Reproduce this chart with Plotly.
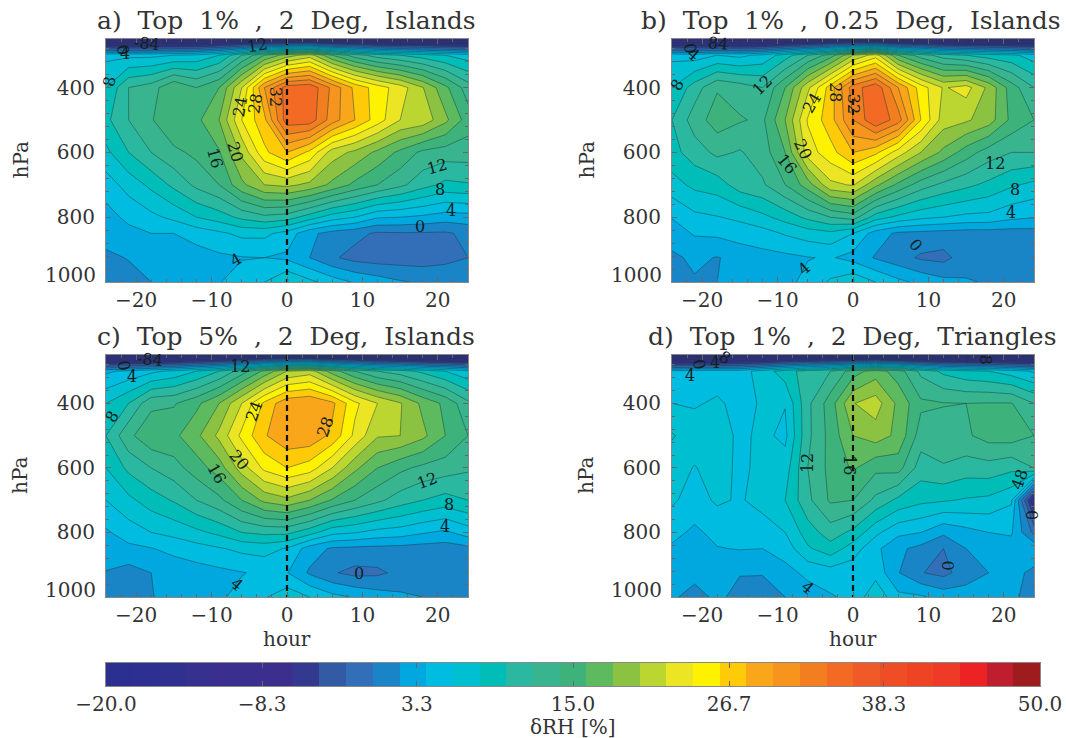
import numpy as np
import plotly.graph_objects as go

W, H = 1066, 738
hours = [-24,-21,-18,-15,-12,-9,-6,-3,0,3,6,9,12,15,18,21,24]
levels = [250,300,400,500,600,700,800,850,925,1000]

# values by pressure level (rows) for panel a
panel_a = [
 [-14,-14,-14,-14,-14,-13,-13,-12,-12,-12,-13,-13,-14,-14,-14,-14,-14],
 [5.5,5.5,5.5,6,6.5,8,12,16,19,21,16,13,11,10,9,8,7],
 [8,12,13,15.9,14,16,22,30,35,35.5,31.5,27.5,25,23,20.1,16.5,13],
 [9.5,12,13.8,16,15.5,18,24,27.5,35.2,35.2,31,28,25,22,21.3,18.5,15],
 [7.5,10,12,13.5,14.5,15.8,20.5,25.5,28,25.5,21,19.5,17.5,15.5,13.5,13,13],
 [5,6.8,8.5,10.5,12.5,14,17.5,20,20.5,19.5,17.5,15.5,14,12.5,10.8,9.5,9.8],
 [3.2,4.5,5.5,6.5,8,9,10.5,11.5,11,9,7,6,4.2,4,3.6,3,3.2],
 [2.8,3.4,4,4,4.8,5.6,6.5,6.5,5.2,2.5,1.2,0.6,-0.3,-0.2,-0.2,-0.3,0.5],
 [1.6,2.1,2.6,2.9,3.1,3.6,3.9,4,3.6,2,0.3,-0.7,-1,-1,-1,-0.6,0],
 [1,1.3,2,3,3.4,3.9,4.8,6,8,6.5,5,3.8,3,2.2,1.7,1.6,1.5],
]
# values by hour (columns, 250 -> 1000 hPa) for the other panels
panel_b_cols = [
 [-14,5.5,8,10,9.3,7.2,4.1,3,1.6,1.2],
 [-14,5,11,13,11,8.5,5.5,4.2,2.4,1.8],
 [-14,6,13.8,15,12.5,9,5.9,4.4,1.9,2.0],
 [-14,5.5,13,14.2,11.8,11,6.4,5,2.6,2.9],
 [-14,6.5,12,13.6,13,11.7,7.5,5.2,3.3,3.2],
 [-13,9,16,18,16,14,8.8,6.2,3.5,3.4],
 [-13,12,21.5,24.2,23,17,10.5,7,3.9,4.6],
 [-12,15,27,27.2,25.2,21.5,12,7.5,4.2,6.3],
 [-12,20,33,32,28,22.2,13,6,3.3,7.5],
 [-12,23,35.5,35.8,26.5,18.5,9,3,1.8,6],
 [-13,16,30,33,23,15.5,7.5,1.6,0.8,4.5],
 [-13,13,25,26,20,13,6.5,1.4,-0.3,3.5],
 [-14,11,21.8,21,17.5,11.5,6,1.2,-0.6,2.6],
 [-14,10,22.8,20.3,15,10.5,5.5,1,1,2.2],
 [-14,9,19.5,19,13,9.5,5.4,1,1.3,1.8],
 [-14,8.5,15,15.5,12,8.3,4.5,1,1.3,1.6],
 [-14,7,12,14,12,7.5,4.1,1.1,1.1,1.4],
]
panel_c_cols = [
 [-15,3.6,8,10,8,6,3.7,3,1.9,1.2],
 [-15,4.5,10,13.5,10.5,7.5,5,3.5,1.2,1.3],
 [-15,5.5,13.5,15.5,12,9,6,3.9,2,1.9],
 [-15,6.5,13.8,15.5,13.2,10.2,6.6,4.6,2.7,2.7],
 [-14,8,15.5,17.5,15,12,7.5,5.2,3.1,3.1],
 [-14,10,18,20.5,17,13.5,8.5,5.8,3.5,3.7],
 [-13,13,22,24.5,21,16,10,6.5,3.9,4.6],
 [-12,16.5,26.5,27.8,24.5,18.5,10.5,6.8,4.4,5.8],
 [-12,20,29.5,29.5,26,19.5,10.5,5.8,4.1,7.2],
 [-12,21,30,29.5,25,18,8.8,3,1.7,6],
 [-13,17,28.5,27.5,22,15.8,6.6,1.7,0.2,4.6],
 [-13,14,24.5,23.5,18.5,14,6.1,1.5,-0.6,3.8],
 [-14,12,22,20.2,16,12.5,5.3,1.4,-0.4,3],
 [-14,11,20.2,20,14.5,11,5,1.3,0.5,2.4],
 [-15,9.5,17.5,18.5,13.5,10,4.2,1.1,0.7,2],
 [-15,8,15.5,16,13,9.2,3.6,1,0.2,1.7],
 [-15,6.5,12.5,14,12.3,10,5,1.4,1,1.4],
]
panel_d_cols = [
 [-16,4.5,6,8.2,6.8,6.3,4.6,3.7,3,2.3],
 [-16,5,5.8,7,5.9,5.2,3.6,3.2,2.6,1.3],
 [-16,5,6.3,7.2,6.8,6.3,4.6,3.9,3.2,2.4],
 [-15,5,5.4,5.5,5.6,5.8,4.8,4.1,2.1,1.4],
 [-15,7,6.2,6.5,6.5,6.7,5,4,2.1,1.2],
 [-14,9,6.1,5.5,7,8,6,4.9,3.3,2],
 [-14,11,11.5,11.5,12,11.5,9,7.7,4.5,3],
 [-14,12,15,14.7,14.6,14.3,11,9.2,5,3.8],
 [-14,15,19.9,18,16.3,14,9.5,7,4.8,4.5],
 [-14,17,21,19,14.5,11.5,6.5,4.5,5.3,7.5],
 [-15,15,17.5,17.5,14.8,9.5,4.5,2.4,2.1,4.5],
 [-15,11.5,14.4,13,11,8.5,4,1.4,0.1,4.3],
 [-16,9.5,14.1,13.2,11.8,8.2,2.4,0,-0.6,3.2],
 [-16,8.5,14,13.7,11,7.8,3.3,2,1,3],
 [-16,8,14.1,14.8,11.2,7.5,4,3,2,2.8],
 [-16,7,14.1,15,10.5,6.3,4.2,3.3,2.7,2.5],
 [-16,5.7,12,14,12,-8,-0.5,3.5,1.5,1],
]
titles = ["a) Top 1% , 2 Deg, Islands","b) Top 1% , 0.25 Deg, Islands",
          "c) Top 5% , 2 Deg, Islands","d) Top 1% , 2 Deg, Triangles"]
band_colors = ["#2b3090","#2d3091","#2f3090","#38308f","#3a2f8e","#3a2e8e","#3b2e8d",
 "#33398f","#335aa5","#336fb8","#1a85c6","#00a8e0","#00bce0","#00bfd0","#00bdb8","#2bb8a0",
 "#38b58f","#3db27a","#5dba5f","#8cc241","#bcd631","#ece524","#fff200","#ffcb08","#faa61a",
 "#f7941d","#f37e20","#f26a24","#f05a28","#ef4d26","#ef4423","#ee3a26","#ed2224","#be1e2d","#9e1b1e"]
cbar_values = [-19+2*i for i in range(35)]
cbar_ticks = [-20,-8.3,3.3,15,26.7,38.3,50]
cbar_ticktext = ["\u221220.0","\u22128.3","3.3","15.0","26.7","38.3","50.0"]

# contour labels: hour, hPa, text, angle
labels_a = [(-21.7,284,"0",80),(-18.6,263,"-84",5),(-21.5,294,"4",0),(-23.5,382,"8",-80),(-4,269,"12",-10),
 (-6.2,459,"24",-80),(-4.2,449,"28",-80),(-1.6,428,"32",90),(-9.5,618,"16",75),(-6.9,598,"20",75),
 (19.9,644,"12",-15),(20.3,716,"8",0),(21.7,778,"4",0),(17.7,829,"0",0),(-6.7,932,"4",-30)]
labels_b = [(-21.6,279,"0",80),(-17.9,263,"84",5),(-21.2,299,"4",40),(-23.4,392,"8",-60),(-12.1,392,"12",-45),
 (-2.3,413,"28",90),(0.1,449,"32",90),(-5.5,449,"24",-60),(-6.6,590,"20",65),(-8.8,634,"16",50),
 (18.8,634,"12",0),(21.5,716,"8",0),(20.9,786,"4",0),(8.4,886,"0",50),(-6.5,958,"4",-40)]
labels_c = [(-21.7,284,"0",80),(-18.2,265,"-84",5),(-20.6,317,"4",0),(-23.2,441,"8",-60),(-6.2,286,"12",0),
 (-4.4,425,"24",-70),(5.1,472,"28",-70),(-6.4,575,"20",50),(-9.3,616,"16",60),(18.6,640,"12",-20),
 (21.5,714,"8",0),(20.9,781,"4",0),(9.5,928,"0",0),(-6.6,960,"4",40)]
labels_d = [(-20.4,279,"0",80),(-18.3,273,"4",0),(-17,257,"8",30),(-21.6,315,"4",0),(-6.1,585,"12",-90),
 (-0.5,592,"16",90),(22.1,637,"48",-70),(23.7,745,"0",90),(12.5,903,"0",90),(-6,969,"4",40),(17.5,265,"8",90)]

FONT = "DejaVu Serif"
TXT = "#333333"
panels = [np.array(panel_a), np.array(panel_b_cols).T, np.array(panel_c_cols).T, np.array(panel_d_cols).T]
all_labels = [labels_a, labels_b, labels_c, labels_d]
boxes = [(106,468,39,282),(672,1034,39,282),(106,468,355,597),(672,1034,355,597)]
title_x = [286,851,286,852]

scale = [[0, band_colors[0]]] + [[(k+1)/36, c] for k, c in enumerate(band_colors)] + [[1, band_colors[-1]]]
step = []
for k, c in enumerate(band_colors):
    step += [[k/35, c], [(k+1)/35, c]]

fig = go.Figure()
layout = dict(width=W, height=H, autosize=False, margin=dict(l=0,r=0,t=0,b=0,autoexpand=False),
              paper_bgcolor="white", plot_bgcolor="white", showlegend=False,
              font=dict(family=FONT, color=TXT, size=20))
ann = []
axis_common = dict(showgrid=False, zeroline=False, showline=True, linecolor="#888888", linewidth=1,
                   mirror="ticks", ticks="inside", tickcolor="#666666", ticklen=5, tickwidth=1,
                   tickfont=dict(family=FONT, size=20, color=TXT))
def paper(px, py, text, size=20, angle=0, xanchor="center"):
    return dict(x=px/W, y=1-py/H, xref="paper", yref="paper", text=text, textangle=angle, showarrow=False,
                xanchor=xanchor, yanchor="middle", font=dict(family=FONT, size=size, color=TXT))
for i, (z, box, labs) in enumerate(zip(panels, boxes, all_labels)):
    n = "" if i == 0 else str(i+1)
    xa, ya = "x"+n, "y"+n
    fig.add_trace(go.Contour(x=hours, y=levels, z=z, xaxis=xa, yaxis=ya, showscale=False,
        colorscale=scale, autocontour=False, hoverinfo="skip",
        contours=dict(start=-20, end=50, size=2, coloring="fill", showlines=True),
        line=dict(color="rgba(20,55,60,0.72)", width=0.65, smoothing=0)))
    fig.add_trace(go.Scatter(x=[0,0], y=[250,1000], xaxis=xa, yaxis=ya, mode="lines", hoverinfo="skip",
        line=dict(color="#111111", width=2.2, dash="6px,4px")))
    x0,x1,y0,y1 = box
    layout["xaxis"+n] = dict(axis_common, domain=[x0/W,x1/W], range=[-24,24], anchor=ya,
        tickvals=[-20,-10,0,10,20], ticktext=["\u221220","\u221210","0","10","20"],
        minor=dict(ticks="inside", ticklen=3, tickcolor="#666666", dtick=2, tick0=0))
    layout["yaxis"+n] = dict(axis_common, domain=[1-y1/H,1-y0/H], range=[1000,250], anchor=xa,
        ticklabelstandoff=6, tickvals=[400,600,800,1000], ticktext=["400","600","800",""],
        minor=dict(ticks="inside", ticklen=3, tickcolor="#666666", dtick=40, tick0=200))
    for hr,p,t,a in labs:
        ann.append(dict(x=hr,y=p,xref=xa,yref=ya,text=t,textangle=a,showarrow=False,xanchor="center",yanchor="middle",
                        font=dict(family=FONT,size=16,color="#10201f")))
    ann.append(paper(title_x[i], y0-19, titles[i].replace(" ", "\u00a0\u00a0"), size=25))
    ann.append(paper(x0-8, y1-7, "1000", xanchor="right"))
    ann.append(paper(x0-86, (y0+y1)/2, "hPa", angle=-90))
    if i >= 2:
        ann.append(paper((x0+x1)/2, 639, "hour"))

fig.add_trace(go.Heatmap(x=cbar_values, y=[0], z=[cbar_values], xaxis="x5", yaxis="y5", zmin=-20, zmax=50,
                         colorscale=step, showscale=False, hoverinfo="skip"))
layout["xaxis5"] = dict(axis_common, domain=[106/W,1040/W], range=[-20,50], anchor="y5",
                        tickvals=cbar_ticks, ticktext=cbar_ticktext)
layout["yaxis5"] = dict(showgrid=False, zeroline=False, showline=True, linecolor="#888888", mirror=True,
                        domain=[1-686/H,1-663/H], range=[-0.5,0.5], anchor="x5", showticklabels=False, ticks="")
ann.append(paper(573, 727, "\u03b4RH [%]"))
layout["annotations"] = ann
fig.update_layout(**layout)
fig.write_html("out.html", config=dict(displayModeBar=False), post_script="document.body.style.margin='0';")
